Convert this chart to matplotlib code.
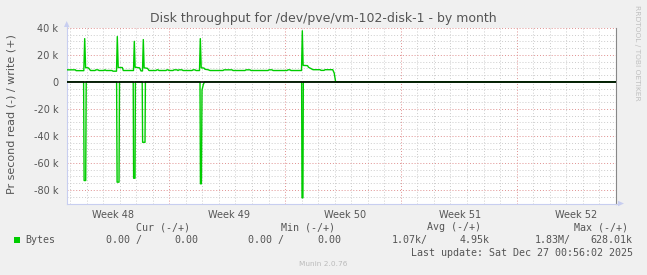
import matplotlib
matplotlib.use('Agg')
import matplotlib.pyplot as plt
import numpy as np
from matplotlib.patches import Polygon, Rectangle
from matplotlib.lines import Line2D

# ---------------- data ----------------
title = 'Disk throughput for /dev/pve/vm-102-disk-1 - by month'
ylabel = 'Pr second read (-) / write (+)'

# write (+) series, time in days from graph start, value in k bytes/s
write_days = [0.000, 0.532, 0.562, 1.034, 1.088, 1.143, 1.318, 1.439, 1.711, 1.771,
              1.892, 1.953, 2.255, 2.316, 2.376, 2.739, 2.799, 3.011, 3.059, 3.114,
              3.362, 3.422, 4.039, 4.087, 4.135, 4.402, 4.492, 4.583, 4.631, 4.680,
              4.885, 4.976, 5.399, 5.460, 5.520, 5.581, 6.004, 6.064, 6.125, 6.185,
              6.427, 6.488, 6.669, 6.729, 6.790, 6.971, 7.032, 7.576, 7.636, 7.757,
              7.818, 8.029, 8.077, 8.132, 8.301, 8.362, 8.543, 8.664, 9.450, 9.510,
              9.994, 10.054, 10.780, 10.840, 11.082, 11.143, 12.171, 12.231, 12.412, 12.473,
              13.320, 13.380, 13.501, 13.561, 14.196, 14.244, 14.293, 14.559, 14.619, 14.891,
              15.314, 15.375, 15.556, 15.617, 16.082, 16.173, 16.258, 33.19]
write_k = [8.9, 8.9, 8.3, 8.3, 32.0, 10.6, 10.3, 8.4, 8.4, 8.9,
           8.9, 8.4, 8.4, 8.9, 8.4, 8.4, 7.9, 7.9, 33.5, 10.6,
           10.6, 8.4, 8.4, 30.0, 10.8, 10.4, 8.1, 8.1, 31.3, 10.4,
           10.0, 8.4, 8.4, 8.9, 8.9, 8.4, 8.4, 8.9, 8.9, 8.4,
           8.4, 8.9, 8.9, 8.4, 8.9, 8.9, 8.4, 8.4, 8.9, 8.9,
           8.4, 8.4, 32.0, 10.4, 10.2, 9.3, 9.0, 8.4, 8.4, 8.9,
           8.9, 8.4, 8.4, 8.9, 8.9, 8.4, 8.4, 8.9, 8.9, 8.4,
           8.4, 8.9, 8.9, 8.4, 8.4, 37.8, 12.2, 12.0, 10.8, 9.0,
           9.0, 8.5, 8.5, 9.0, 9.0, 6.5, 0.0, 0.0]

# read (-) series, plotted below zero
read_days = [0.000, 1.022, 1.052, 1.149, 1.179, 3.017, 3.047, 3.162, 3.192, 4.021,
             4.045, 4.130, 4.154, 4.565, 4.589, 4.734, 4.758, 8.059, 8.084, 8.144,
             8.180, 8.259, 8.332, 14.202, 14.226, 14.281, 14.305, 33.19]
read_k = [0.0, 0.0, 73.0, 73.0, 0.0, 0.0, 74.2, 74.2, 0.0, 0.0,
          71.3, 71.3, 0.0, 0.0, 44.7, 44.7, 0.0, 0.0, 75.4, 75.4,
          6.0, 2.0, 0.0, 0.0, 85.8, 85.8, 0.0, 0.0]

week_bounds = [6.2, 13.2, 20.2, 27.2]
week_label_pos = [2.8, 9.8, 16.8, 23.8, 30.8]
week_labels = ['Week 48', 'Week 49', 'Week 50', 'Week 51', 'Week 52']
ytick_vals = [-80000, -60000, -40000, -20000, 0, 20000, 40000]
ytick_labels = ['-80 k', '-60 k', '-40 k', '-20 k', '0', '20 k', '40 k']
x_span = 33.19

legend_headers = ['Cur (-/+)', 'Min (-/+)', 'Avg (-/+)', 'Max (-/+)']
series_name = 'Bytes'
legend_read = ['0.00 /', '0.00 /', '1.07k/', '1.83M/']
legend_write = ['0.00', '0.00', '4.95k', '628.01k']
last_update = 'Last update: Sat Dec 27 00:56:02 2025'
footer = 'Munin 2.0.76'
watermark = 'RRDTOOL / TOBI OETIKER'

# ---------------- style / layout ----------------
W, H = 647, 275
GREEN = '#00CC00'
TXT = '#555555'
AXISC = '#C8CEF0'
MINOR = '#CCCCCC'
MAJOR = '#E09090'

def fx(px):
    return px / W

def fy(py):
    return 1 - py / H

fig = plt.figure(figsize=(W / 100, H / 100), dpi=100, facecolor='#F0F0F0')
left, right, top, bottom = 66.7, 615.7, 27.8, 203.5
ax = fig.add_axes([fx(left), fy(bottom), fx(right) - fx(left), fy(top) - fy(bottom)])
ax.set_facecolor('white')
ax.set_xlim(0, x_span)
ax.set_ylim(-90000, 40000)

# grid
for d in np.arange(0.2, x_span, 1.0):
    if min(abs(d - b) for b in week_bounds) < 0.05:
        continue
    ax.axvline(d, color=MINOR, lw=0.7, ls=(0, (1, 2)), zorder=1)
for b in week_bounds:
    ax.axvline(b, color=MAJOR, lw=0.7, ls=(0, (1, 2)), zorder=1)
for v in np.arange(-90000, 40001, 5000):
    if v % 20000 == 0:
        continue
    ax.axhline(v, color=MINOR, lw=0.7, ls=(0, (1, 2)), zorder=1)
for v in ytick_vals:
    if v == 0:
        continue
    ax.axhline(v, color=MAJOR, lw=0.7, ls=(0, (1, 2)), zorder=1)

# data
ax.plot(write_days, np.array(write_k) * 1000, color=GREEN, lw=1.0, zorder=3)
ax.plot(read_days, -np.array(read_k) * 1000, color=GREEN, lw=1.0, zorder=3)
ax.axhline(0, color='black', lw=1.2, zorder=4)

# ticks
ax.set_xticks(week_label_pos)
ax.set_xticklabels(week_labels)
ax.set_yticks(ytick_vals)
ax.set_yticklabels(ytick_labels)
ax.tick_params(axis='both', which='major', length=0, labelsize=7, labelcolor=TXT)
ax.tick_params(axis='x', pad=5)
ax.tick_params(axis='y', pad=6)

ax.spines['top'].set_visible(False)
ax.spines['left'].set_color(AXISC)
ax.spines['bottom'].set_color(AXISC)
ax.spines['right'].set_color('#888888')
for s in ['left', 'bottom', 'right']:
    ax.spines[s].set_linewidth(0.8)

# axis extensions and arrows
fig.add_artist(Line2D([fx(right), fx(618.5)], [fy(bottom), fy(bottom)], color=AXISC, lw=0.8))
fig.add_artist(Line2D([fx(left), fx(left)], [fy(top), fy(24)], color=AXISC, lw=0.8))
fig.add_artist(Polygon([[fx(618), fy(bottom - 2.7)], [fx(624), fy(bottom)], [fx(618), fy(bottom + 2.7)]],
                       closed=True, transform=fig.transFigure, color=AXISC, lw=0))
fig.add_artist(Polygon([[fx(left - 2.7), fy(27)], [fx(left), fy(21)], [fx(left + 2.7), fy(27)]],
                       closed=True, transform=fig.transFigure, color=AXISC, lw=0))

# texts
fig.text(fx(323.5), fy(18.5), title, ha='center', va='center', fontsize=9, color=TXT)
fig.text(fx(12), fy(114), ylabel, ha='center', va='center', rotation=90, fontsize=8, color=TXT)
fig.text(fx(637), fy(5), watermark, ha='center', va='top', rotation=270, fontsize=5.4, color='#C0C0C0')

mono = 'DejaVu Sans Mono'
fs = 7.2
hx = [136, 281.4, 427, 573.6]
for x, t in zip(hx, legend_headers):
    fig.text(fx(x), fy(227.5), t, ha='left', va='center', fontsize=fs, family=mono, color=TXT)
fig.add_artist(Rectangle((fx(14), fy(243)), fx(6), 6 / H, transform=fig.transFigure,
                         facecolor=GREEN, edgecolor='none'))
fig.text(fx(25.6), fy(240), series_name, ha='left', va='center', fontsize=fs, family=mono, color=TXT)
rx1 = [141.5, 284, 428, 570.7]
rx2 = [198, 341, 490, 632.6]
for x1, x2, a, b in zip(rx1, rx2, legend_read, legend_write):
    fig.text(fx(x1), fy(240), a, ha='right', va='center', fontsize=fs, family=mono, color=TXT)
    fig.text(fx(x2), fy(240), b, ha='right', va='center', fontsize=fs, family=mono, color=TXT)
fig.text(fx(632.6), fy(252.5), last_update, ha='right', va='center', fontsize=fs, family=mono, color=TXT)
fig.text(fx(323), fy(264.5), footer, ha='center', va='center', fontsize=5.3, color='#BBBBBB')

fig.savefig('out.png', dpi=100, facecolor=fig.get_facecolor())
